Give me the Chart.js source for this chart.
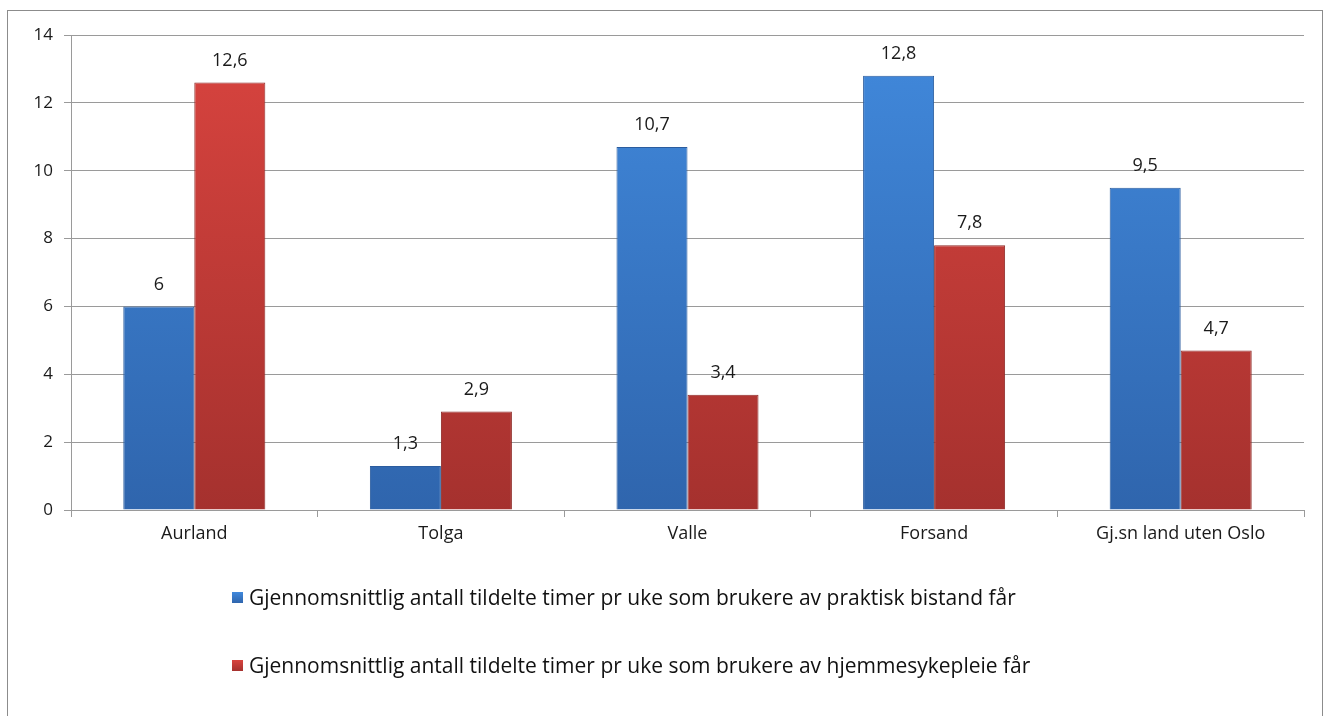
<!DOCTYPE html>
<html>
<head>
<meta charset="utf-8">
<script src="https://cdn.jsdelivr.net/npm/chart.js@4.4.0/dist/chart.umd.min.js"></script>
<style>
  html, body { margin: 0; padding: 0; background: #fff; overflow: hidden; }
  #frame { position: absolute; left: 7px; top: 10px; width: 1316px; height: 720px; border: 1px solid #8c8c8c; box-sizing: border-box; }
  #wrap { position: absolute; left: 0; top: 0; width: 1325px; height: 716px; }
  #legend { position: absolute; left: 232px; top: 584px; font-family: "Open Sans", Lato, sans-serif; font-size: 21px; color: #111; }
  .item { display: flex; align-items: center; height: 26px; margin-bottom: 42px; }
  .box { width: 11px; height: 11px; margin-right: 6px; box-sizing: border-box; }
</style>
</head>
<body>
<div id="frame"></div>
<div id="wrap"><canvas id="c" width="1325" height="716"></canvas></div>
<div id="legend"></div>
<script>
// ---- data ----
const categories = ['Aurland', 'Tolga', 'Valle', 'Forsand', 'Gj.sn land uten Oslo'];
const praktiskBistand = [6, 1.3, 10.7, 12.8, 9.5];
const hjemmesykepleie = [12.6, 2.9, 3.4, 7.8, 4.7];
const seriesNames = [
  'Gjennomsnittlig antall tildelte timer pr uke som brukere av praktisk bistand får',
  'Gjennomsnittlig antall tildelte timer pr uke som brukere av hjemmesykepleie får'
];
const yTicks = [0, 2, 4, 6, 8, 10, 12, 14];

const FONT = '"Open Sans", Lato, sans-serif';

// vertikal gradient per serie
function barFill(top, bottom) {
  return ctx => {
    const area = ctx.chart.chartArea;
    if (!area) return bottom;
    const g = ctx.chart.ctx.createLinearGradient(0, area.top, 0, area.bottom);
    g.addColorStop(0, top);
    g.addColorStop(1, bottom);
    return g;
  };
}

// verdier over stolpene, med komma som desimaltegn
const valueLabels = {
  id: 'valueLabels',
  afterDatasetsDraw(chart) {
    const ctx = chart.ctx;
    ctx.save();
    ctx.font = '18px ' + FONT;
    ctx.fillStyle = '#1a1a1a';
    ctx.textAlign = 'center';
    ctx.textBaseline = 'middle';
    chart.data.datasets.forEach((ds, i) => {
      chart.getDatasetMeta(i).data.forEach((bar, j) => {
        ctx.fillText(String(ds.data[j]).replace('.', ','), bar.x, bar.y - 22);
      });
    });
    ctx.restore();
  }
};

const chart = new Chart(document.getElementById('c'), {
  type: 'bar',
  data: {
    labels: categories,
    datasets: [
      {
        label: seriesNames[0],
        data: praktiskBistand,
        backgroundColor: barFill('#4189dc', '#2f65ad'),
        borderColor: '#2b5c9e',
        borderWidth: 1
      },
      {
        label: seriesNames[1],
        data: hjemmesykepleie,
        backgroundColor: barFill('#d9443f', '#a5312e'),
        borderColor: '#8f2b28',
        borderWidth: 1
      }
    ]
  },
  options: {
    responsive: false,
    animation: false,
    datasets: { bar: { categoryPercentage: 0.576, barPercentage: 1 } },
    layout: { padding: { left: 0, right: 21, top: 35, bottom: 0 } },
    scales: {
      x: {
        afterFit: s => { s.height = 206; },
        grid: { display: true, offset: true, drawOnChartArea: false, tickLength: 7, color: '#9a9a9a' },
        border: { color: '#9a9a9a' },
        ticks: { color: '#1a1a1a', font: { family: FONT, size: 18 }, padding: 6 }
      },
      y: {
        min: 0, max: 14,
        afterFit: s => { s.width = 71; },
        afterBuildTicks: s => { s.ticks = yTicks.map(v => ({ value: v })); },
        grid: { color: '#9a9a9a', tickLength: 7 },
        border: { color: '#9a9a9a' },
        ticks: { color: '#1a1a1a', font: { family: FONT, size: 17 }, padding: 11 }
      }
    },
    plugins: {
      legend: { display: false },
      tooltip: { enabled: false }
    }
  },
  plugins: [valueLabels]
});

// legende under diagrammet
const legendColors = [['#4189dc', '#2f65ad'], ['#d9443f', '#a5312e']];
document.getElementById('legend').innerHTML = chart.data.datasets.map((ds, i) =>
  `<div class="item"><span class="box" style="background:linear-gradient(${legendColors[i][0]},${legendColors[i][1]})"></span>${ds.label}</div>`
).join('');
</script>
</body>
</html>
